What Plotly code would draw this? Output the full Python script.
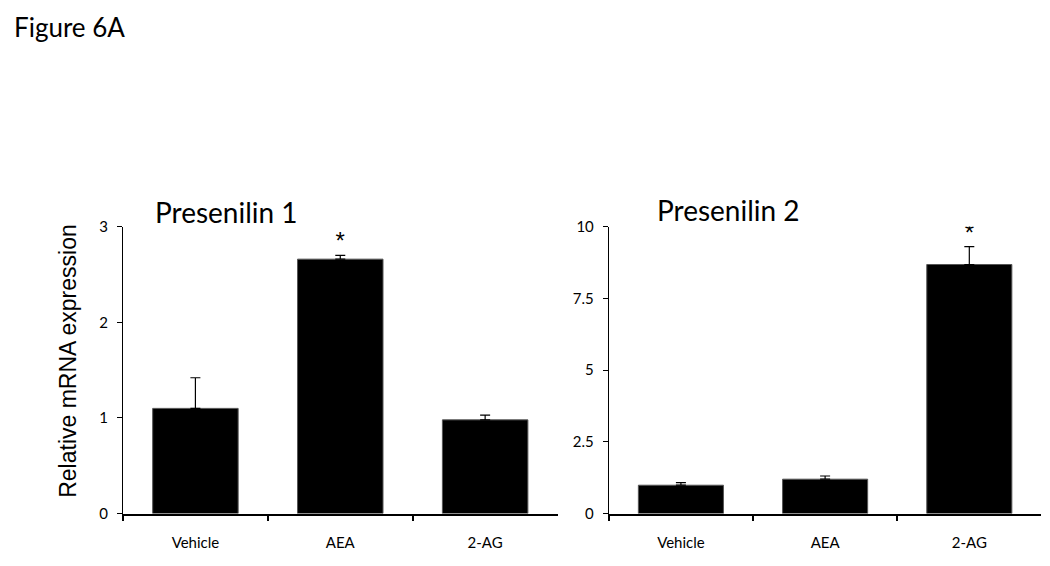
import plotly.graph_objects as go

# -- data
groups = ['Vehicle', 'AEA', '2-AG']

ps1_mean = [1.10, 2.66, 0.98]
ps1_err = [0.32, 0.04, 0.05]
ps1_sig = [False, True, False]

ps2_mean = [0.99, 1.20, 8.68]
ps2_err = [0.09, 0.11, 0.62]
ps2_sig = [False, False, True]

y1_ticks = [0, 1, 2, 3]
y2_ticks = [0, 2.5, 5, 7.5, 10]

fig = go.Figure()

# -- bars with one sided error bars
for mean, err, xa, ya in [(ps1_mean, ps1_err, 'x', 'y'), (ps2_mean, ps2_err, 'x2', 'y2')]:
    fig.add_trace(go.Bar(x=groups, y=mean, xaxis=xa, yaxis=ya,
                         marker=dict(color='black', line=dict(color='#555555', width=1)),
                         error_y=dict(type='data', symmetric=False, array=err,
                                      arrayminus=[0] * len(err),
                                      color='black', thickness=1.2, width=5),
                         showlegend=False, hoverinfo='x+y'))

# -- significance stars
for mean, err, sig, xa, ya in [(ps1_mean, ps1_err, ps1_sig, 'x', 'y'),
                               (ps2_mean, ps2_err, ps2_sig, 'x2', 'y2')]:
    sx = [g for g, s in zip(groups, sig) if s]
    sy = [m + e for m, e, s in zip(mean, err, sig) if s]
    fig.add_trace(go.Scatter(x=sx, y=sy, xaxis=xa, yaxis=ya, mode='text', text=['*'] * len(sx),
                             textposition='top center',
                             textfont=dict(family='Liberation Sans', size=24, color='black'),
                             showlegend=False, hoverinfo='skip'))

xax = dict(type='category', showline=True, linecolor='black', linewidth=2,
           ticks='outside', tickson='boundaries', ticklen=5, tickcolor='black', tickwidth=2,
           tickfont=dict(family='Lato', size=15, color='black'), ticklabelstandoff=14,
           showgrid=False, zeroline=False, fixedrange=True)
yax = dict(showline=True, linecolor='black', linewidth=1, ticks='outside', ticklen=5,
           tickcolor='black', tickfont=dict(family='Lato', size=15, color='black'),
           showgrid=False, zeroline=False, ticklabelstandoff=6)

fig.update_layout(
    width=1050, height=566,
    margin=dict(l=0, r=0, t=0, b=0),
    paper_bgcolor='white', plot_bgcolor='white',
    bargap=0.41,
    xaxis=dict(xax, domain=[0.1095, 0.5234], anchor='y'),
    yaxis=dict(yax, domain=[0.0956, 0.6193], range=[0, 3], tickvals=y1_ticks, anchor='x'),
    xaxis2=dict(xax, domain=[0.5722, 0.9842], anchor='y2'),
    yaxis2=dict(yax, domain=[0.0956, 0.6193], range=[0, 10], tickvals=y2_ticks,
                ticktext=[str(t) for t in y2_ticks], anchor='x2'),
    annotations=[
        dict(text='Figure 6A', x=0.004, y=0.984, xref='paper', yref='paper', xanchor='left',
             yanchor='middle', showarrow=False, font=dict(family='Lato', size=26, color='black')),
        dict(text='Presenilin 1', x=0.138, y=0.6465, xref='paper', yref='paper', xanchor='left',
             yanchor='middle', showarrow=False, font=dict(family='Lato', size=28, color='black')),
        dict(text='Presenilin 2', x=0.616, y=0.650, xref='paper', yref='paper', xanchor='left',
             yanchor='middle', showarrow=False, font=dict(family='Lato', size=28, color='black')),
        dict(text='Relative mRNA expression', x=0.0569, y=0.374, xref='paper', yref='paper',
             textangle=-90, xanchor='center', yanchor='middle', showarrow=False,
             font=dict(family='Liberation Sans', size=23, color='black')),
    ],
)

fig.write_html("out.html")
